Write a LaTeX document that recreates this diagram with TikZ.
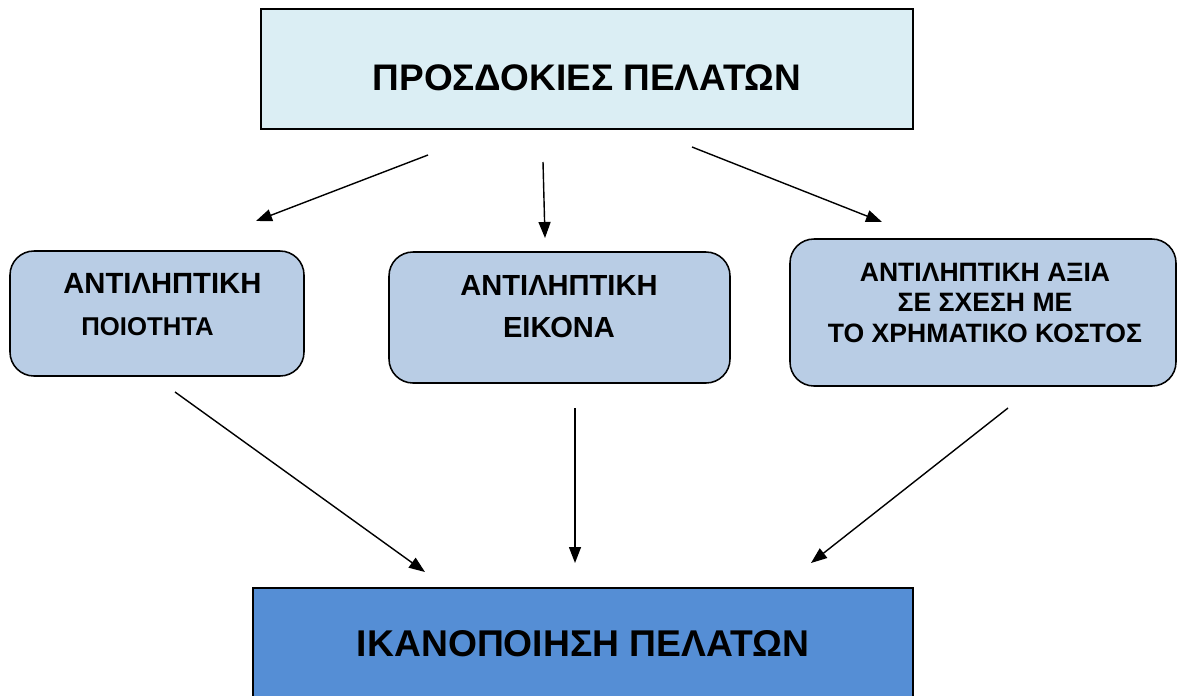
\documentclass[tikz,border=0pt]{standalone}
\usepackage{fontspec}
\setmainfont{Liberation Sans}
\usetikzlibrary{arrows.meta,positioning,calc}

\definecolor{expectfill}{HTML}{DBEEF4}
\definecolor{perceivedfill}{HTML}{B9CDE5}
\definecolor{satisfyfill}{HTML}{558ED5}

\begin{document}
\begin{tikzpicture}[
    topbox/.style={rectangle, draw, line width=1.3pt, inner sep=0pt},
    block/.style={rectangle, draw, line width=1.1pt, rounded corners=0.6cm, fill=perceivedfill, inner sep=0pt},
    txt/.style={inner sep=0pt, font=\bfseries},
    arr/.style={-{Triangle[length=4mm,width=3mm]}, line width=1pt},
]
\useasboundingbox (0,0) rectangle (29.475,-17.375);

% Customer expectations
\node[topbox, fill=expectfill, minimum width=16.3cm, minimum height=3cm] (expect) at (14.675,-1.725) {};
\node[txt, font=\fontsize{26.3}{30}\selectfont\bfseries] (expectText) at (14.675,-1.95) {ΠΡΟΣΔΟΚΙΕΣ ΠΕΛΑΤΩΝ};

% Three perceived factors
\node[block, minimum width=7.35cm, minimum height=3.125cm] (quality) at (3.925,-7.8375) {};
\node[txt, anchor=west, align=left, font=\fontsize{20.8}{29.9}\selectfont\bfseries] (qualityText) at (1.575,-7.625)
    {ΑΝΤΙΛΗΠΤΙΚΗ\\\hspace{12.8pt}{\fontsize{18.3}{29.9}\selectfont ΠΟΙΟΤΗΤΑ}};

\node[block, minimum width=8.525cm, minimum height=3.275cm] (image) at (13.9875,-7.9375) {};
\node[txt, align=center, font=\fontsize{20.7}{29.9}\selectfont\bfseries] (imageText) at (13.975,-7.675)
    {ΑΝΤΙΛΗΠΤΙΚΗ\\ΕΙΚΟΝΑ};

\node[block, minimum width=9.65cm, minimum height=3.675cm] (value) at (24.575,-7.8125) {};
\node[txt, align=center, font=\fontsize{18.9}{21.7}\selectfont\bfseries] (valueText) at (24.625,-7.5625)
    {ΑΝΤΙΛΗΠΤΙΚΗ ΑΞΙΑ\\ΣΕ ΣΧΕΣΗ ΜΕ\\ΤΟ ΧΡΗΜΑΤΙΚΟ ΚΟΣΤΟΣ};

% Customer satisfaction
\node[topbox, fill=satisfyfill, minimum width=16.5cm, minimum height=3cm, anchor=north] (satisfy) at (14.575,-14.675) {};
\node[txt, font=\fontsize{26.5}{30}\selectfont\bfseries] (satisfyText) at (14.575,-16.1) {ΙΚΑΝΟΠΟΙΗΣΗ ΠΕΛΑΤΩΝ};

% Arrow ends
\coordinate (e1) at (10.7,-3.875);   \coordinate (q1) at (6.4,-5.525);
\coordinate (e2) at (13.575,-4.05);  \coordinate (i1) at (13.625,-5.95);
\coordinate (e3) at (17.3,-3.675);   \coordinate (v1) at (22.05,-5.55);
\coordinate (q2) at (4.375,-9.8);    \coordinate (s1) at (10.625,-14.3);
\coordinate (i2) at (14.375,-10.2);  \coordinate (s2) at (14.375,-14.075);
\coordinate (v2) at (25.2,-10.2);    \coordinate (s3) at (20.275,-14.075);

% Arrows from expectations
\draw[arr] (e1) -- (q1);
\draw[arr] (e2) -- (i1);
\draw[arr] (e3) -- (v1);

% Arrows to satisfaction
\draw[arr] (q2) -- (s1);
\draw[arr] (i2) -- (s2);
\draw[arr] (v2) -- (s3);

\end{tikzpicture}
\end{document}
